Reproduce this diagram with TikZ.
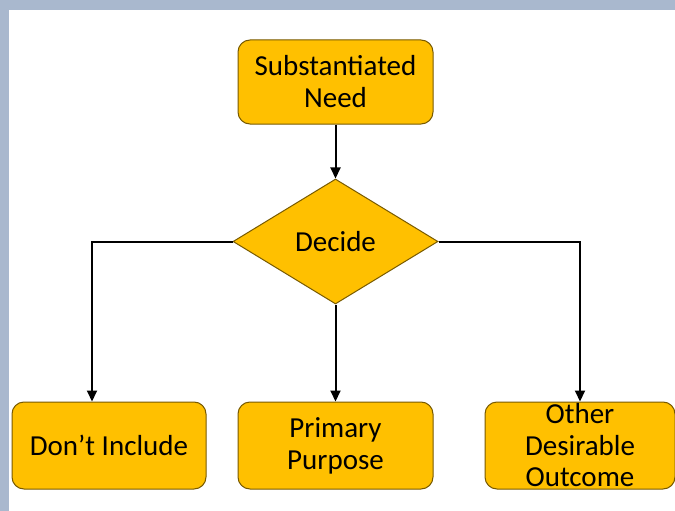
\documentclass[tikz,border=0pt]{standalone}
\usepackage{fontspec}
\setmainfont{Carlito}
\usepackage{xcolor}
\definecolor{boxgold}{RGB}{255,192,0}
\definecolor{boxedge}{RGB}{120,90,0}
\definecolor{frameblue}{RGB}{169,184,206}
\usetikzlibrary{arrows.meta}
\usetikzlibrary{positioning,shapes.geometric}

\tikzset{
    stepbox/.style={draw=boxedge,fill=boxgold,rounded corners=12pt,line width=1pt,
        minimum width=195pt,minimum height=86pt,align=center,inner sep=2pt,
        font=\fontsize{29}{32}\selectfont},
    choice/.style={draw=boxedge,fill=boxgold,diamond,line width=1pt,
        minimum width=205pt,minimum height=125pt,inner sep=0pt,
        font=\fontsize{29}{32}\selectfont},
    flow/.style={line width=2pt,-{Triangle[length=11pt,width=10pt]}}
}

\begin{document}
\begin{tikzpicture}[x=1pt,y=-1pt]
    \fill[frameblue] (0,0) rectangle (675,511);
    \fill[white] (9,10) rectangle (675,511);
    \useasboundingbox (0,0) rectangle (675,511);

    \node[stepbox,minimum height=84pt] (need) at (335.5,82) {Substantiated\\Need};
    \node[choice] (decide) [below=54pt of need] {Decide};
    \node[stepbox,minimum height=87pt] (purpose) [below=97pt of decide] {Primary\\Purpose};
    \node[stepbox,minimum height=87pt,minimum width=194pt] (dont) [left=31pt of purpose] {Don’t Include};
    \node[stepbox,minimum height=87pt,minimum width=190pt,inner ysep=-6pt,
        font=\fontsize{29}{31.5}\selectfont] (other) [right=51pt of purpose] {Other\\Desirable\\Outcome};

    \draw[flow] (need) -- (decide);
    \draw[flow] (decide) -- (purpose);
    \draw[flow] (decide.west) -| ([xshift=-17pt]dont.north);
    \draw[flow] (decide.east) -| (other.north);
\end{tikzpicture}
\end{document}
